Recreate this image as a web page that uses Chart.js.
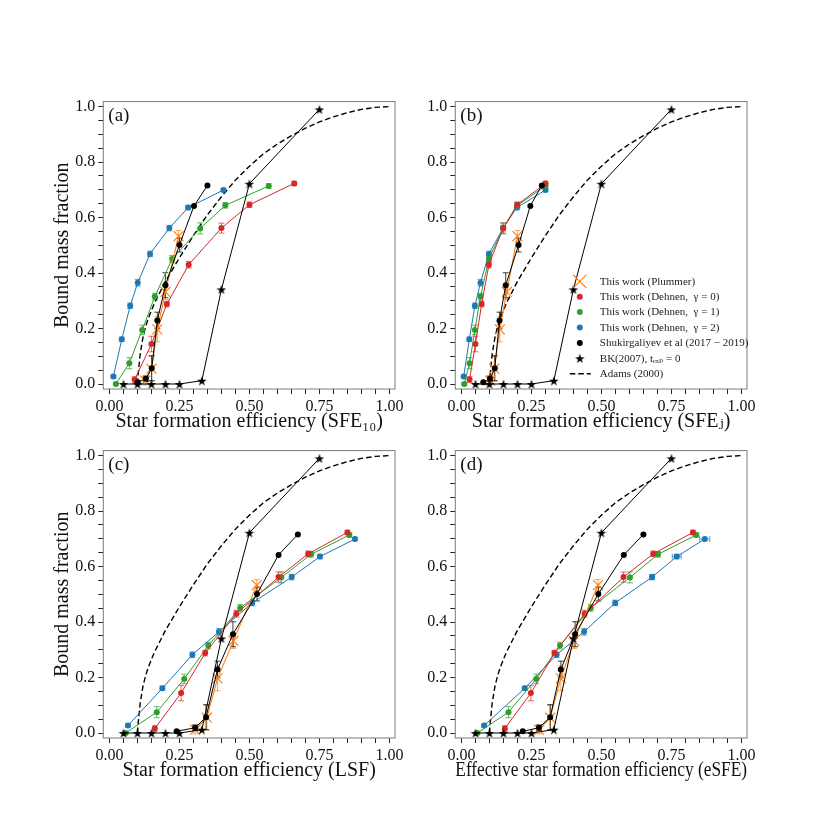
<!DOCTYPE html>
<html><head><meta charset="utf-8">
<script src="https://cdn.jsdelivr.net/npm/chart.js@4.4.1/dist/chart.umd.min.js"></script>
<style>
html,body{margin:0;padding:0;background:#fff;width:830px;height:830px;overflow:hidden;}
canvas{position:absolute;}
</style></head><body>
<canvas id="ca"></canvas><canvas id="cb"></canvas><canvas id="cc"></canvas><canvas id="cd"></canvas>
<script>
// ---------- labels ----------
const seriesLabels = ['This work (Plummer)', 'This work (Dehnen,  γ = 0)', 'This work (Dehnen,  γ = 1)',
  'This work (Dehnen,  γ = 2)', 'Shukirgaliyev et al (2017 − 2019)', 'BK(2007), tₑₓₚ = 0', 'Adams (2000)'];
const panelTags = ['(a)', '(b)', '(c)', '(d)'];
const xTitles = ['Star formation efficiency (SFE₁₀)', 'Star formation efficiency (SFEⱼ)',
  'Star formation efficiency (LSF)', 'Effective star formation efficiency (eSFE)'];
const yTitle = 'Bound mass fraction';
const xTickLabels = ['0.00', '0.25', '0.50', '0.75', '1.00'];
const yTickLabels = ['0.0', '0.2', '0.4', '0.6', '0.8', '1.0'];

// ---------- bound mass fraction (shared by all panels) ----------
const yPlummer = [0.012, 0.055, 0.197, 0.332, 0.533];
const yGamma0 = [0.016, 0.144, 0.288, 0.430, 0.562, 0.646, 0.723];
const yGamma1 = [0.0, 0.075, 0.195, 0.315, 0.451, 0.561, 0.644, 0.714];
const yGamma2 = [0.027, 0.161, 0.282, 0.365, 0.469, 0.562, 0.636, 0.699];
const yShuk = [0.006, 0.019, 0.057, 0.229, 0.356, 0.501, 0.642, 0.716];
const yBK = [0, 0, 0, 0, 0, 0.012, 0.341, 0.722, 0.99];
const xBK = [0.05, 0.10, 0.15, 0.20, 0.25, 0.33, 0.40, 0.50, 0.75];
const xAdams = [0.10, 0.102, 0.105, 0.11, 0.12, 0.13, 0.14, 0.16, 0.18, 0.20, 0.25, 0.30, 0.35, 0.40, 0.45,
  0.50, 0.55, 0.60, 0.65, 0.70, 0.75, 0.80, 0.85, 0.90, 0.95, 1.00];
const yAdams = [0.0, 0.03, 0.06, 0.11, 0.17, 0.21, 0.24, 0.29, 0.33, 0.37, 0.455, 0.535, 0.61, 0.675, 0.735,
  0.785, 0.83, 0.865, 0.895, 0.922, 0.945, 0.963, 0.978, 0.99, 0.997, 1.0];

// ---------- error bars ----------
const errPlummer = [0.015, 0.045, 0.045, 0.027, 0.02];
const errGamma0 = [0.01, 0.028, 0.01, 0.012, 0.018, 0.01, 0.008];
const errGamma1 = [0.004, 0.02, 0.017, 0.012, 0.012, 0.02, 0.01, 0.008];
const errGamma2 = [0.006, 0.008, 0.01, 0.012, 0.01, 0.01, 0.008, 0.006];
const errShuk = [0.0, 0.01, 0.045, 0.03, 0.045, 0.025, 0.0, 0.0];
const xErrGamma2D = [0, 0, 0, 0, 0, 0.008, 0.016, 0.018];

// ---------- star formation efficiencies per panel ----------
// (a) SFE10
const xPlummerA = [0.128, 0.150, 0.171, 0.200, 0.247];
const xGamma0A = [0.090, 0.150, 0.205, 0.283, 0.400, 0.500, 0.660];
const xGamma1A = [0.023, 0.071, 0.117, 0.162, 0.224, 0.324, 0.414, 0.569];
const xGamma2A = [0.014, 0.044, 0.074, 0.101, 0.145, 0.214, 0.281, 0.407];
const xShukA = [0.101, 0.130, 0.151, 0.171, 0.200, 0.250, 0.302, 0.350];
// (b) SFE_J
const xPlummerB = [0.103, 0.117, 0.137, 0.162, 0.200];
const xGamma0B = [0.029, 0.050, 0.072, 0.098, 0.149, 0.199, 0.300];
const xGamma1B = [0.010, 0.029, 0.048, 0.068, 0.098, 0.149, 0.200, 0.300];
const xGamma2B = [0.008, 0.028, 0.048, 0.068, 0.098, 0.149, 0.198, 0.300];
const xShukB = [0.078, 0.102, 0.119, 0.136, 0.158, 0.204, 0.246, 0.287];
// (c) LSF
const xPlummerC = [0.306, 0.348, 0.386, 0.443, 0.526];
const xGamma0C = [0.162, 0.256, 0.342, 0.453, 0.604, 0.710, 0.850];
const xGamma1C = [0.058, 0.169, 0.267, 0.353, 0.467, 0.614, 0.720, 0.857];
const xGamma2C = [0.066, 0.189, 0.296, 0.391, 0.510, 0.651, 0.752, 0.877];
const xShukC = [0.240, 0.306, 0.345, 0.386, 0.441, 0.527, 0.604, 0.673];
// (d) eSFE
const xPlummerD = [0.277, 0.317, 0.355, 0.402, 0.488];
const xGamma0D = [0.155, 0.248, 0.332, 0.440, 0.579, 0.685, 0.827];
const xGamma1D = [0.057, 0.168, 0.267, 0.352, 0.462, 0.602, 0.702, 0.839];
const xGamma2D = [0.081, 0.226, 0.340, 0.438, 0.549, 0.681, 0.769, 0.869];
const xShukD = [0.219, 0.277, 0.317, 0.355, 0.406, 0.489, 0.580, 0.650];

// ---------- styling ----------
const FONT = "'Liberation Serif', 'DejaVu Serif', serif";
const C_OR = '#ff7f0e', C_RED = '#d62728', C_GRN = '#2ca02c', C_BLU = '#1f77b4';

function makeStar(size, color) {
  const c = document.createElement('canvas');
  c.width = size; c.height = size;
  const g = c.getContext('2d');
  g.fillStyle = color; g.beginPath();
  const cx = size / 2, cy = size / 2 + 0.6, R = size / 2, r = R * 0.4;
  for (let i = 0; i < 10; i++) {
    const a = -Math.PI / 2 + i * Math.PI / 5, rad = i % 2 ? r : R;
    g.lineTo(cx + rad * Math.cos(a), cy + rad * Math.sin(a));
  }
  g.closePath(); g.fill();
  return c;
}
const starImg = makeStar(10, '#000');

const pts = (xs, ys) => xs.map((x, i) => ({x: x, y: ys[i]}));

function buildDatasets(xP, x0, x1, x2, xS, xErrBlue) {
  return [
    {label: seriesLabels[0], data: pts(xP, yPlummer), errY: errPlummer, errColor: 'rgba(255,127,14,0.7)',
      borderColor: C_OR, backgroundColor: C_OR, borderWidth: 1.1, pointStyle: 'crossRot', pointRadius: 7,
      pointBorderWidth: 1.2, order: 2},
    {label: seriesLabels[1], data: pts(x0, yGamma0), errY: errGamma0, errColor: 'rgba(214,39,40,0.7)',
      borderColor: C_RED, backgroundColor: C_RED, borderWidth: 1, pointRadius: 3, pointBorderWidth: 0, order: 3},
    {label: seriesLabels[2], data: pts(x1, yGamma1), errY: errGamma1, errColor: 'rgba(44,160,44,0.7)',
      borderColor: C_GRN, backgroundColor: C_GRN, borderWidth: 1, pointRadius: 3, pointBorderWidth: 0, order: 4},
    {label: seriesLabels[3], data: pts(x2, yGamma2), errY: errGamma2, errX: xErrBlue, errColor: 'rgba(31,119,180,0.7)',
      borderColor: C_BLU, backgroundColor: C_BLU, borderWidth: 1, pointRadius: 3, pointBorderWidth: 0, order: 5},
    {label: seriesLabels[4], data: pts(xS, yShuk), errY: errShuk, errColor: 'rgba(0,0,0,0.75)',
      borderColor: '#000', backgroundColor: '#000', borderWidth: 1, pointRadius: 3, pointBorderWidth: 0, order: 0},
    {label: seriesLabels[5], data: pts(xBK, yBK), borderColor: '#000', backgroundColor: '#000', borderWidth: 1,
      pointStyle: starImg, pointRadius: 5, order: 1},
    {label: seriesLabels[6], data: pts(xAdams, yAdams), borderColor: '#000', borderWidth: 1.4,
      borderDash: [5.5, 3], pointRadius: 0, order: 6}
  ];
}

const errorBarPlugin = {
  id: 'errbars',
  beforeDatasetsDraw(chart) {
    const ctx = chart.ctx, xs = chart.scales.x, ys = chart.scales.y;
    ctx.save();
    ctx.lineWidth = 1;
    chart.data.datasets.forEach(ds => {
      if (!ds.errY && !ds.errX) return;
      ctx.strokeStyle = ds.errColor;
      ds.data.forEach((p, i) => {
        const px = xs.getPixelForValue(p.x), py = ys.getPixelForValue(p.y);
        const ey = ds.errY ? ds.errY[i] : 0;
        if (ey > 0) {
          const y1 = ys.getPixelForValue(p.y - ey), y2 = ys.getPixelForValue(p.y + ey);
          ctx.beginPath();
          ctx.moveTo(px, y1); ctx.lineTo(px, y2);
          ctx.moveTo(px - 3, y1); ctx.lineTo(px + 3, y1);
          ctx.moveTo(px - 3, y2); ctx.lineTo(px + 3, y2);
          ctx.stroke();
        }
        const ex = ds.errX ? ds.errX[i] : 0;
        if (ex > 0) {
          const x1 = xs.getPixelForValue(p.x - ex), x2 = xs.getPixelForValue(p.x + ex);
          ctx.beginPath();
          ctx.moveTo(x1, py); ctx.lineTo(x2, py);
          ctx.moveTo(x1, py - 3); ctx.lineTo(x1, py + 3);
          ctx.moveTo(x2, py - 3); ctx.lineTo(x2, py + 3);
          ctx.stroke();
        }
      });
    });
    ctx.restore();
  }
};

const framePlugin = {
  id: 'frame',
  afterDatasetsDraw(chart, args, opts) {
    const {ctx, chartArea: a} = chart;
    ctx.save();
    ctx.strokeStyle = '#7a7a7a'; ctx.lineWidth = 1;
    ctx.strokeRect(a.left, a.top, a.right - a.left, a.bottom - a.top);
    ctx.fillStyle = '#111';
    ctx.font = "19px " + FONT;
    ctx.textBaseline = 'middle'; ctx.textAlign = 'left';
    ctx.fillText(opts.tag, a.left + 5, a.top + 14);
    ctx.restore();
  }
};

const legendPlugin = {
  id: 'innerLegend',
  afterDraw(chart, args, opts) {
    if (!opts.show) return;
    const {ctx, chartArea: a} = chart;
    const ds = chart.data.datasets;
    const mx = a.left + 124.5, tx = a.left + 144.5;
    const rowH = 15.4, y0 = a.bottom - 15.3 - rowH * 6;
    ctx.save();
    ctx.font = "11px " + FONT;
    ctx.textBaseline = 'middle'; ctx.textAlign = 'left';
    for (let i = 0; i < ds.length; i++) {
      const y = y0 + i * rowH;
      if (i === 0) {
        ctx.strokeStyle = C_OR; ctx.lineWidth = 1.2;
        const d = 6.5;
        ctx.beginPath();
        ctx.moveTo(mx - d, y - d); ctx.lineTo(mx + d, y + d);
        ctx.moveTo(mx - d, y + d); ctx.lineTo(mx + d, y - d);
        ctx.stroke();
      } else if (i >= 1 && i <= 4) {
        ctx.fillStyle = ds[i].backgroundColor;
        ctx.beginPath(); ctx.arc(mx, y, 3, 0, Math.PI * 2); ctx.fill();
      } else if (i === 5) {
        ctx.drawImage(starImg, mx - 5, y - 5);
      } else {
        ctx.strokeStyle = '#000'; ctx.lineWidth = 1.4; ctx.setLineDash([5.5, 3]);
        ctx.beginPath(); ctx.moveTo(mx - 10, y); ctx.lineTo(mx + 11, y); ctx.stroke();
        ctx.setLineDash([]);
      }
      ctx.fillStyle = '#222';
      ctx.fillText(ds[i].label, tx, y + 0.5);
    }
    ctx.restore();
  }
};

function isMult(v, step) { const k = Math.round(v / step); return Math.abs(v - k * step) < 1e-6 ? k : -1; }

function makePanel(id, left, top, width, yW, tag, xTitle, showYTitle, datasets, showLegend) {
  const height = 360;
  const cv = document.getElementById(id);
  cv.width = width; cv.height = height;
  cv.style.left = left + 'px'; cv.style.top = top + 'px';
  cv.style.width = width + 'px'; cv.style.height = height + 'px';
  const frameRight = yW + 291.7;
  return new Chart(cv, {
    type: 'line',
    data: {datasets: datasets},
    plugins: [errorBarPlugin, framePlugin, legendPlugin],
    options: {
      responsive: false, animation: false, events: [],
      devicePixelRatio: 1,
      layout: {padding: {top: 10, right: width - frameRight, left: 0, bottom: 0}},
      elements: {line: {tension: 0, fill: false}},
      plugins: {legend: {display: false}, tooltip: {enabled: false},
        frame: {tag: tag}, innerLegend: {show: showLegend}},
      scales: {
        x: {
          type: 'linear', min: -0.022, max: 1.02,
          afterFit: s => { s.height = 60; },
          border: {display: false},
          grid: {drawOnChartArea: false, drawTicks: true, tickLength: 5, tickColor: '#222', tickWidth: 1},
          ticks: {stepSize: 0.05, includeBounds: false, autoSkip: false, maxRotation: 0, minRotation: 0,
            padding: 3, color: '#111', font: {family: FONT, size: 16},
            callback: v => { const k = isMult(v, 0.25); return k >= 0 ? xTickLabels[k] : ''; }},
          title: {display: true, text: xTitle, color: '#111', font: {family: FONT, size: 20},
            padding: {top: 0, bottom: 15}}
        },
        y: {
          type: 'linear', min: -0.018, max: 1.018,
          afterFit: s => { s.width = yW; },
          border: {display: false},
          grid: {drawOnChartArea: false, drawTicks: true, tickLength: 5, tickColor: '#222', tickWidth: 1},
          ticks: {stepSize: 0.05, includeBounds: false, autoSkip: false, padding: 3, color: '#111',
            font: {family: FONT, size: 16},
            callback: v => { const k = isMult(v, 0.2); return k >= 0 ? yTickLabels[k] : ''; }},
          title: {display: showYTitle, text: yTitle, color: '#111', font: {family: FONT, size: 20},
            padding: {top: 51, bottom: 0}}
        }
      }
    }
  });
}

makePanel('ca', 0, 89.3, 420, 103.3, panelTags[0], xTitles[0], true,
  buildDatasets(xPlummerA, xGamma0A, xGamma1A, xGamma2A, xShukA, null), false);
makePanel('cb', 415, 89.3, 415, 40.3, panelTags[1], xTitles[1], false,
  buildDatasets(xPlummerB, xGamma0B, xGamma1B, xGamma2B, xShukB, null), true);
makePanel('cc', 0, 438.3, 420, 103.3, panelTags[2], xTitles[2], true,
  buildDatasets(xPlummerC, xGamma0C, xGamma1C, xGamma2C, xShukC, null), false);
makePanel('cd', 415, 438.3, 415, 40.3, panelTags[3], xTitles[3], false,
  buildDatasets(xPlummerD, xGamma0D, xGamma1D, xGamma2D, xShukD, xErrGamma2D), false);
</script>
</body></html>
